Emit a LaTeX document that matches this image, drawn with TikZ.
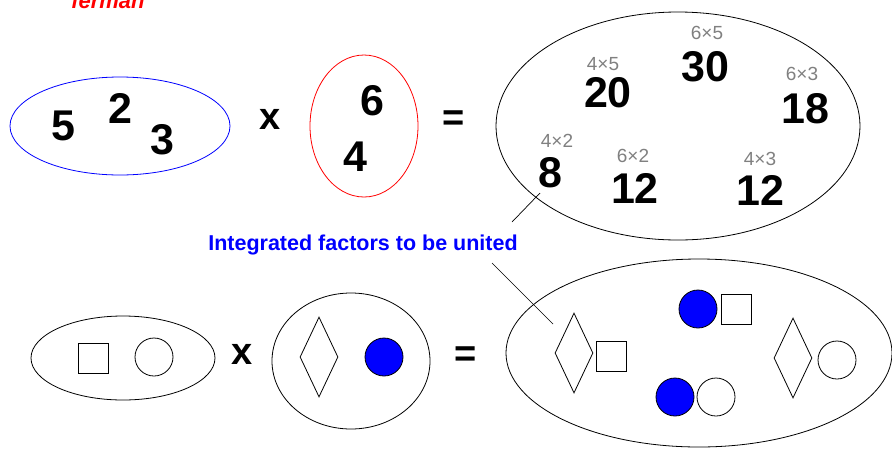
\documentclass[tikz,border=0pt]{standalone}
\usepackage{fontspec}
\setmainfont{Liberation Sans}
\usetikzlibrary{shapes.geometric}
\tikzset{
    bag/.style={ellipse, draw, line width=0.8pt, inner sep=0pt},
    bignum/.style={font=\fontsize{43}{43}\selectfont\bfseries, inner sep=0pt},
    prodlabel/.style={font=\fontsize{19}{19}\selectfont, text=gray, inner sep=0pt},
    opsign/.style={font=\fontsize{38}{38}\selectfont\bfseries, inner sep=0pt},
    kite/.style={diamond, draw, line width=0.8pt, inner sep=0pt, minimum width=38pt, minimum height=80pt},
    box/.style={rectangle, draw, line width=0.8pt, inner sep=0pt, minimum size=30pt},
    ring/.style={circle, draw, line width=0.8pt, inner sep=0pt, minimum size=38pt},
    dot/.style={circle, draw, fill=blue, line width=0.8pt, inner sep=0pt, minimum size=38pt},
    pointer/.style={line width=0.7pt},
}

\begin{document}
\begin{tikzpicture}[x=1pt, y=-1pt]
    \useasboundingbox (0,0) rectangle (892,448);

    % title, cut off at the top
    \node[anchor=base, text=red, font=\fontsize{22}{22}\selectfont\bfseries\itshape] (title) at (108,8) {ferman};

    % first row: numbers
    \node[bag, draw=blue, minimum width=220pt, minimum height=98pt] (setA) at (120,126) {};
    \node[bignum] (n5) at (63,126) {5};
    \node[bignum] (n2) at (120,108) {2};
    \node[bignum] (n3) at (162,140) {3};
    \node[opsign] (times1) at (270,119) {x};
    \node[bag, draw=red, minimum width=108pt, minimum height=142pt] (setB) at (364,126) {};
    \node[bignum] (n6) at (372,101) {6};
    \node[bignum] (n4) at (355,157) {4};
    \node[opsign] (eq1) at (454,121) {=};

    % products
    \node[bag, minimum width=364pt, minimum height=228pt] (setP) at (678,126) {};
    \node[prodlabel] (l65) at (707,33) {6×5};
    \node[bignum] (p30) at (705,67) {30};
    \node[prodlabel] (l45) at (603,64) {4×5};
    \node[bignum] (p20) at (608,93) {20};
    \node[prodlabel] (l63) at (802,74) {6×3};
    \node[bignum] (p18) at (805,109) {18};
    \node[prodlabel] (l42) at (557,141) {4×2};
    \node[bignum] (p8) at (550,173) {8};
    \node[prodlabel] (l62) at (633,156) {6×2};
    \node[bignum] (p12a) at (635,188) {12};
    \node[prodlabel] (l43) at (760,159) {4×3};
    \node[bignum] (p12b) at (760,190) {12};

    % caption with two pointers
    \node[text=blue, font=\fontsize{21.5}{21.5}\selectfont\bfseries, inner sep=0pt] (caption) at (363,245) {Integrated factors to be united};
    \coordinate (tailA) at (512,222);
    \coordinate (tipA) at (540,193);
    \coordinate (tailB) at (492,263);
    \coordinate (tipB) at (553,324);
    \draw[pointer] (tailA) -- (tipA);
    \draw[pointer] (tailB) -- (tipB);

    % second row: shapes
    \node[bag, minimum width=184pt, minimum height=84pt] (setC) at (123,358) {};
    \node[box] (sqC) at (93,358) {};
    \node[ring] (ciC) at (154,357) {};
    \node[opsign] (times2) at (242,354) {x};
    \node[bag, minimum width=158pt, minimum height=136pt] (setD) at (351,361) {};
    \node[kite] (kiD) at (319,357) {};
    \node[dot] (doD) at (384,357) {};
    \node[opsign] (eq2) at (466,357) {=};

    % united shapes
    \node[bag, minimum width=386pt, minimum height=188pt] (setU) at (699,353) {};
    \node[kite] (kiU1) at (574,353) {};
    \node[box] (sqU1) at (611,356) {};
    \node[dot] (doU1) at (698,309) {};
    \node[box] (sqU2) at (736,309) {};
    \node[dot] (doU2) at (675,397) {};
    \node[ring] (ciU2) at (716,397) {};
    \node[kite] (kiU3) at (793,358) {};
    \node[ring] (ciU3) at (837,360) {};
\end{tikzpicture}
\end{document}
